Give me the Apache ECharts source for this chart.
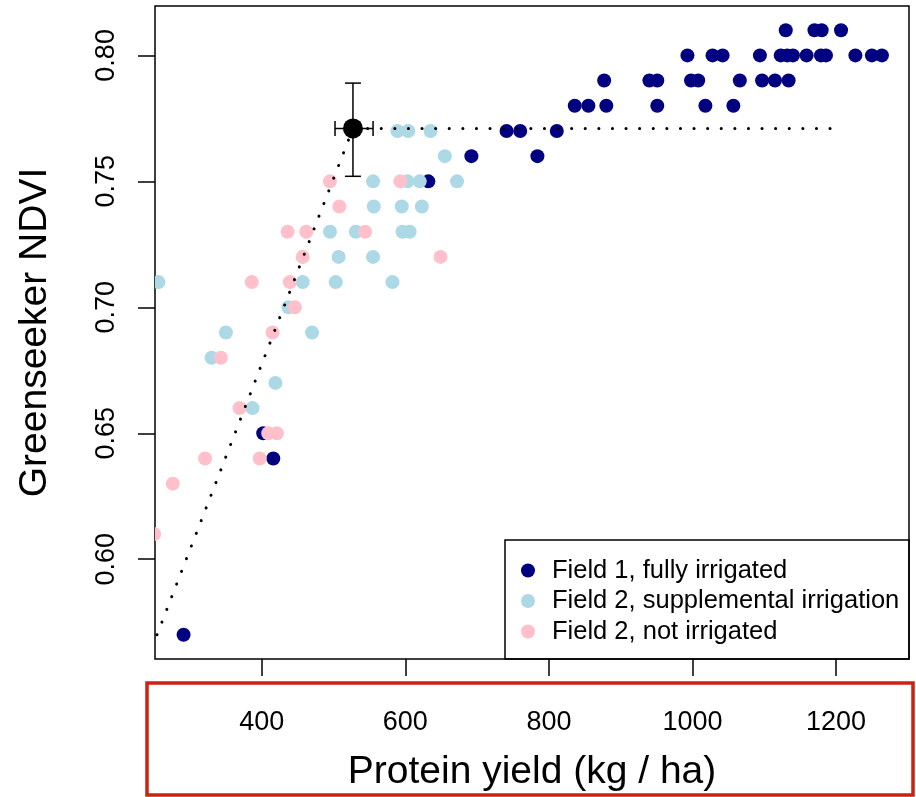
<!DOCTYPE html>
<html>
<head>
<meta charset="utf-8">
<title>Greenseeker NDVI vs protein yield</title>
<script src="https://cdn.jsdelivr.net/npm/echarts@6.0.0/dist/echarts.min.js"></script>
<style>
  html, body { margin: 0; padding: 0; background: #ffffff; }
  #chart { width: 916px; height: 797px; }
</style>
</head>
<body>
<div id="chart"></div>
<script>
// Field 1, fully irrigated
const field1X = [1130, 1170, 1180, 1207,
  993, 1028, 1042, 1094, 1123, 1132, 1140, 1159, 1179, 1186, 1227, 1250, 1264,
  877, 940, 951, 998, 1008, 1066, 1097, 1115, 1134,
  836, 855, 880, 951, 1018, 1057,
  741, 760, 811,
  692, 784,
  632, 402, 416, 291];
const field1Y = [0.81, 0.81, 0.81, 0.81,
  0.80, 0.80, 0.80, 0.80, 0.80, 0.80, 0.80, 0.80, 0.80, 0.80, 0.80, 0.80, 0.80,
  0.79, 0.79, 0.79, 0.79, 0.79, 0.79, 0.79, 0.79, 0.79,
  0.78, 0.78, 0.78, 0.78, 0.78, 0.78,
  0.77, 0.77, 0.77,
  0.76, 0.76,
  0.75, 0.65, 0.64, 0.57];

// Field 2, supplemental irrigation
const field2SupX = [589, 604, 635, 655, 555, 603, 620, 672, 556, 595, 623,
  495, 531, 596, 606, 507, 555, 256, 457, 503, 582, 437, 350, 470, 330, 419, 387];
const field2SupY = [0.77, 0.77, 0.77, 0.76, 0.75, 0.75, 0.75, 0.75, 0.74, 0.74, 0.74,
  0.73, 0.73, 0.73, 0.73, 0.72, 0.72, 0.71, 0.71, 0.71, 0.71, 0.70, 0.69, 0.69, 0.68, 0.67, 0.66];

// Field 2, not irrigated
const field2DryX = [495, 593, 508, 436, 462, 544, 457, 649, 386, 439,
  446, 415, 343, 369, 409, 421, 321, 397, 276, 250];
const field2DryY = [0.75, 0.75, 0.74, 0.73, 0.73, 0.73, 0.72, 0.72, 0.71, 0.71,
  0.70, 0.69, 0.68, 0.66, 0.65, 0.65, 0.64, 0.64, 0.63, 0.61];

// Linear-plateau fit
const fitX = [254, 527, 1200];
const fitY = [0.570, 0.771, 0.771];

// Join point with its confidence ranges
const joinX = [527];
const joinY = [0.771];
const joinXRange = [502, 555];
const joinYRange = [0.752, 0.789];

const xTicks = [400, 600, 800, 1000, 1200];
const yTicks = [0.60, 0.65, 0.70, 0.75, 0.80];

const seriesNames = ['Field 1, fully irrigated', 'Field 2, supplemental irrigation', 'Field 2, not irrigated'];
const seriesColors = ['#000080', '#ADD8E6', '#FFC0CB'];

const FONT = '"Liberation Sans", Arial, Helvetica, sans-serif';

function pairs(xs, ys) { return xs.map((x, i) => [x, ys[i]]); }

function pointSeries(name, color, xs, ys) {
  return {
    name: name,
    type: 'custom',
    clip: true,
    itemStyle: { color: color },
    encode: { x: 0, y: 1 },
    data: pairs(xs, ys),
    renderItem: function (params, api) {
      const p = api.coord([api.value(0), api.value(1)]);
      return { type: 'circle', shape: { cx: p[0], cy: p[1], r: 7 }, style: { fill: color } };
    }
  };
}

const chart = echarts.init(document.getElementById('chart'), null, { renderer: 'canvas' });

chart.setOption({
  animation: false,
  backgroundColor: '#ffffff',
  textStyle: { fontFamily: FONT },
  grid: {
    left: 155, right: 7, top: 6, bottom: 138,
    show: true, borderColor: '#000', borderWidth: 1.5, backgroundColor: 'transparent'
  },
  xAxis: {
    type: 'value',
    min: 251.2, max: 1301.7,
    name: 'Protein yield (kg / ha)',
    nameLocation: 'middle',
    nameGap: 94,
    nameTextStyle: { fontSize: 39, color: '#000', fontFamily: FONT },
    axisLine: { show: false },
    splitLine: { show: false },
    axisTick: { show: true, customValues: xTicks, length: 17, lineStyle: { color: '#000', width: 1.5 } },
    axisLabel: {
      customValues: xTicks, fontSize: 27, color: '#000', margin: 50, fontFamily: FONT,
      formatter: function (v) { return String(Math.round(v)); }
    }
  },
  yAxis: {
    type: 'value',
    min: 0.5604, max: 0.8196,
    name: 'Greenseeker NDVI',
    nameLocation: 'middle',
    nameGap: 100,
    nameRotate: 90,
    nameTextStyle: { fontSize: 39, color: '#000', fontFamily: FONT },
    axisLine: { show: false },
    splitLine: { show: false },
    axisTick: { show: true, customValues: yTicks, length: 17, lineStyle: { color: '#000', width: 1.5 } },
    axisLabel: {
      customValues: yTicks, fontSize: 27, color: '#000', margin: 35, rotate: 90, fontFamily: FONT,
      formatter: function (v) { return Number(v).toFixed(2); }
    }
  },
  legend: {
    orient: 'vertical',
    left: 521, top: 555.5,
    padding: 0,
    itemWidth: 38, itemHeight: 14,
    itemGap: 0.5,
    icon: 'circle',
    selectedMode: false,
    textStyle: { fontSize: 25.5, lineHeight: 30, color: '#000', fontFamily: FONT },
    data: seriesNames
  },
  graphic: [
    {
      type: 'rect', z: 5,
      shape: { x: 505, y: 540, width: 404, height: 119 },
      style: { fill: 'none', stroke: '#000', lineWidth: 1.5 }
    },
    {
      type: 'rect', z: 5,
      shape: { x: 147, y: 683, width: 766, height: 112 },
      style: { fill: 'none', stroke: '#cc2211', lineWidth: 3.5 }
    }
  ],
  series: [
    pointSeries(seriesNames[0], seriesColors[0], field1X, field1Y),
    pointSeries(seriesNames[1], seriesColors[1], field2SupX, field2SupY),
    pointSeries(seriesNames[2], seriesColors[2], field2DryX, field2DryY),
    {
      name: 'fit',
      type: 'line',
      data: pairs(fitX, fitY),
      showSymbol: false,
      symbol: 'none',
      silent: true,
      lineStyle: { color: '#000', width: 3, type: [0.1, 13.5], cap: 'round' }
    },
    {
      name: 'join',
      type: 'custom',
      clip: false,
      encode: { x: 0, y: 1 },
      data: joinX.map((x, i) => [x, joinY[i], joinXRange[0], joinXRange[1], joinYRange[0], joinYRange[1]]),
      renderItem: function (params, api) {
        const c = api.coord([api.value(0), api.value(1)]);
        const l = api.coord([api.value(2), api.value(1)]);
        const r = api.coord([api.value(3), api.value(1)]);
        const lo = api.coord([api.value(0), api.value(4)]);
        const hi = api.coord([api.value(0), api.value(5)]);
        const st = { stroke: '#000', lineWidth: 1.5 };
        const hCap = 7.5, vCap = 8;
        return {
          type: 'group',
          children: [
            { type: 'line', shape: { x1: l[0], y1: c[1], x2: r[0], y2: c[1] }, style: st },
            { type: 'line', shape: { x1: l[0], y1: c[1] - hCap, x2: l[0], y2: c[1] + hCap }, style: st },
            { type: 'line', shape: { x1: r[0], y1: c[1] - hCap, x2: r[0], y2: c[1] + hCap }, style: st },
            { type: 'line', shape: { x1: c[0], y1: lo[1], x2: c[0], y2: hi[1] }, style: st },
            { type: 'line', shape: { x1: c[0] - vCap, y1: lo[1], x2: c[0] + vCap, y2: lo[1] }, style: st },
            { type: 'line', shape: { x1: c[0] - vCap, y1: hi[1], x2: c[0] + vCap, y2: hi[1] }, style: st },
            { type: 'circle', shape: { cx: c[0], cy: c[1], r: 10 }, style: { fill: '#000' } }
          ]
        };
      }
    }
  ]
});
</script>
</body>
</html>
